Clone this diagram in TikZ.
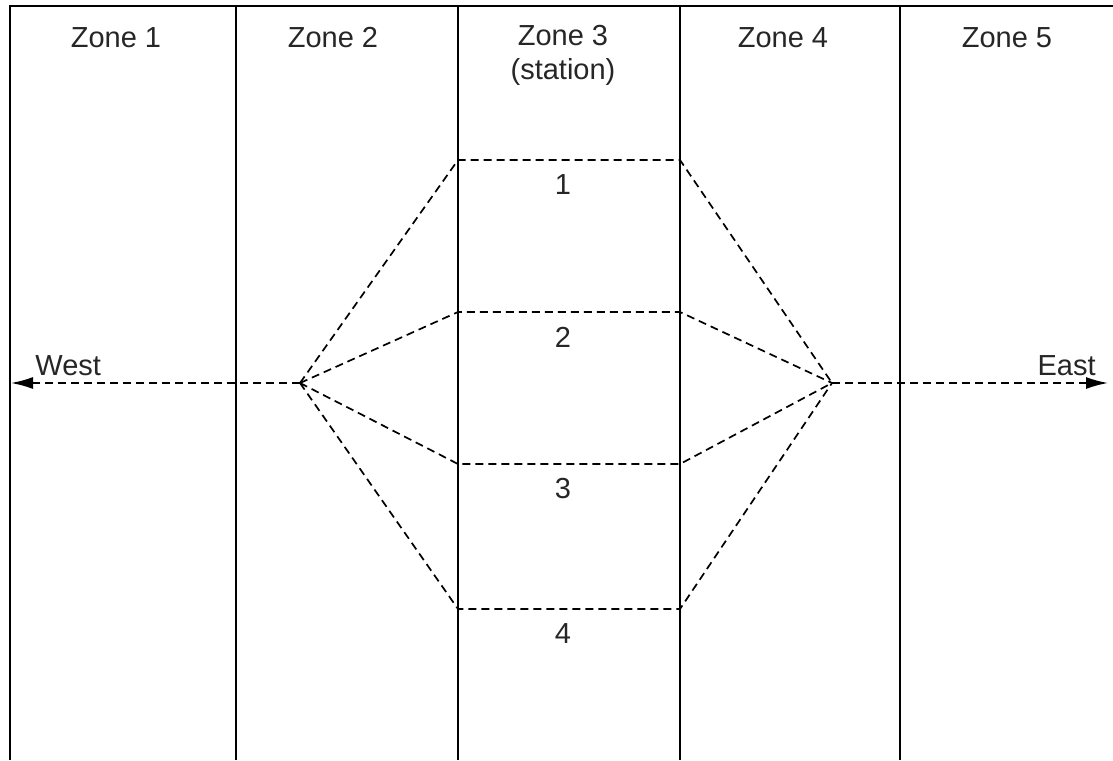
\documentclass[tikz,border=0pt]{standalone}
\usepackage{fontspec}
\setmainfont{Liberation Sans}
\usetikzlibrary{arrows.meta}
\begin{document}
\begin{tikzpicture}[x=0.5pt,y=-0.5pt,
  wall/.style={line width=1.2pt,black},
  track/.style={line width=0.85pt,dash pattern=on 4pt off 2.5pt},
  lbl/.style={font=\fontsize{14.5pt}{17pt}\selectfont,text=black!85,inner sep=0pt,align=center},
  tip/.style={-{Latex[length=11pt,width=6pt]}}]
\useasboundingbox (0,0) rectangle (1113,760);
% frame
\coordinate (tl) at (10,6);
\coordinate (tr) at (1113,6);
\draw[wall] (10,760) -- (tl) -- (tr);
\foreach \x in {236,458,680,900} \draw[wall] (\x,6) -- (\x,760);
% zone labels
\node[lbl] (z1) at (116,38) {Zone 1};
\node[lbl] (z2) at (333,38) {Zone 2};
\node[lbl] (z3) at (563,55) {Zone 3\\(station)};
\node[lbl] (z4) at (783,38) {Zone 4};
\node[lbl] (z5) at (1007,38) {Zone 5};
% hubs
\coordinate (W) at (300,383);
\coordinate (E) at (832,383);
\coordinate (Wend) at (11,383);
\coordinate (Eend) at (1108,383);
% tracks
\foreach \n/\y in {1/160,2/312,3/464,4/609}{
  \coordinate (a\n) at (458,\y);
  \coordinate (b\n) at (680,\y);
  \draw[track] (W) -- (a\n) -- (b\n) -- (E);
  \node[lbl] (t\n) at (563,\y+25) {\n};
}
\draw[track,tip] (W) -- (Wend);
\draw[track,tip] (E) -- (Eend);
\node[lbl,anchor=base west] (west) at (35,375) {West};
\node[lbl,anchor=base east] (east) at (1096,375) {East};
\end{tikzpicture}
\end{document}
